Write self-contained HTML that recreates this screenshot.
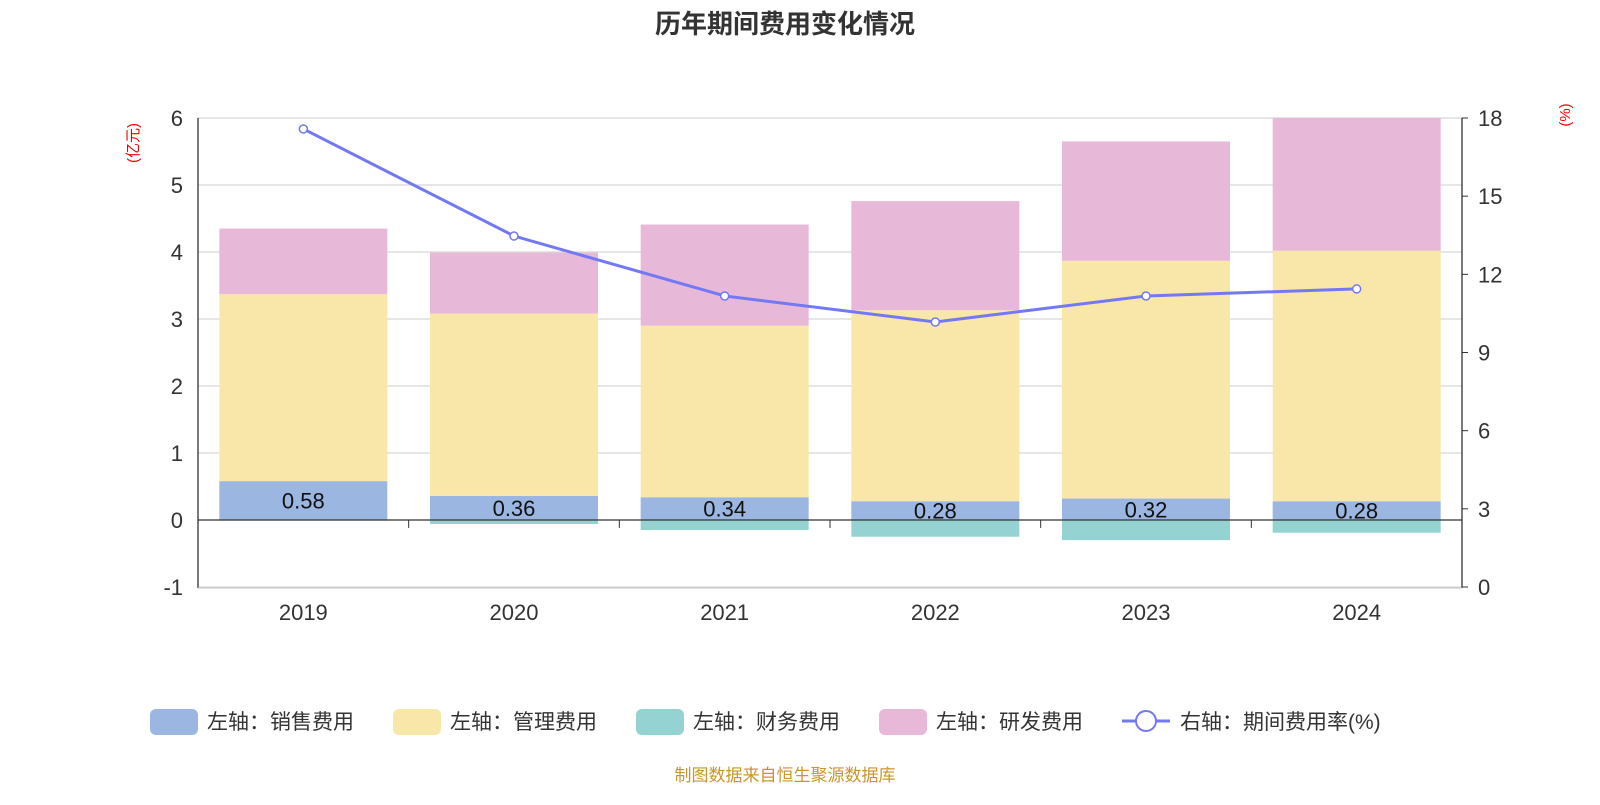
<!DOCTYPE html>
<html><head><meta charset="utf-8"><style>
body{margin:0;background:#fff;font-family:"Liberation Sans","Noto Sans CJK SC",sans-serif;}
</style></head><body>
<svg id="c" width="1600" height="800" xmlns="http://www.w3.org/2000/svg" style="font-family:'Liberation Sans','Noto Sans CJK SC',sans-serif">
<text x="785" y="33" text-anchor="middle" font-size="26" font-weight="bold" fill="#333">历年期间费用变化情况</text>
<text transform="translate(138,143) rotate(-90)" text-anchor="middle" font-size="15" fill="#e00">(亿元)</text>
<text transform="translate(1570,115) rotate(-90)" text-anchor="middle" font-size="15" fill="#e00">(%)</text>
<g id="grid"></g><g id="bars"></g><g id="axes"></g><g id="line"></g>
<g id="legend" font-size="21" fill="#333">
<rect x="150" y="709" width="48" height="26" rx="6" fill="#9bb6e0"/><text x="207" y="729">左轴：销售费用</text>
<rect x="393" y="709" width="48" height="26" rx="6" fill="#f8e7a8"/><text x="450" y="729">左轴：管理费用</text>
<rect x="636" y="709" width="48" height="26" rx="6" fill="#95d3d3"/><text x="693" y="729">左轴：财务费用</text>
<rect x="879" y="709" width="48" height="26" rx="6" fill="#e7b8d8"/><text x="936" y="729">左轴：研发费用</text>
<line x1="1122" y1="721" x2="1170" y2="721" stroke="#7378f5" stroke-width="3"/><circle cx="1146" cy="721" r="10" fill="#fff" stroke="#7378f5" stroke-width="2"/><text x="1180" y="729">右轴：期间费用率(%)</text>
</g>
<text x="785" y="781" text-anchor="middle" font-size="17" fill="#c8962a">制图数据来自恒生聚源数据库</text>
</svg>
<script>
const categories=["2019","2020","2021","2022","2023","2024"];
const sales=[0.58,0.36,0.34,0.28,0.32,0.28];
const admin=[2.79,2.72,2.56,2.85,3.55,3.74];
const finance=[-0.01,-0.06,-0.15,-0.25,-0.30,-0.19];
const rd=[0.98,0.91,1.51,1.63,1.78,1.98];
const rate=[17.58,13.47,11.17,10.17,11.17,11.44];
const leftTicks=[-1,0,1,2,3,4,5,6];
const rightTicks=[0,3,6,9,12,15,18];
const NS="http://www.w3.org/2000/svg";
const X0=198,X1=1462,band=(X1-X0)/categories.length,bw=168;
const yL=v=>520-v*67;
const yR=v=>587-v*(469/18);
const xc=i=>X0+band*(i+0.5);
function mk(p,t,a){const e=document.createElementNS(NS,t);for(const k in a)e.setAttribute(k,a[k]);document.getElementById(p).appendChild(e);return e;}
leftTicks.forEach(t=>{
 if(t!==0){const g=mk('grid','line',{x1:X0,x2:X1,y1:yL(t),y2:yL(t),stroke:'#ccc','stroke-width':1});
 
 }
 const l=mk('axes','text',{x:183,y:yL(t)+8,'text-anchor':'end','font-size':22,fill:'#333'});l.textContent=t;
 
 
});
rightTicks.forEach(t=>{
 const l=mk('axes','text',{x:1478,y:yR(t)+8,'font-size':22,fill:'#333'});l.textContent=t;
 
 
 const k=mk('axes','line',{x1:X1,x2:X1+6,y1:yR(t),y2:yR(t),stroke:'#333'});
 
 
});
categories.forEach((c,i)=>{
 const x=xc(i)-bw/2;
 const segs=[[0,sales[i],'#9bb6e0','bar-sales'],[sales[i],sales[i]+admin[i],'#f8e7a8','bar-admin'],[sales[i]+admin[i],sales[i]+admin[i]+rd[i],'#e7b8d8','bar-rd'],[finance[i],0,'#95d3d3','bar-finance']];
 segs.forEach(s=>{const top=Math.min(s[1],6);const r=mk('bars','rect',{x:x,width:bw,y:yL(top),height:Math.max(0,yL(s[0])-yL(top)),fill:s[2]});
  
  });
 const t=mk('bars','text',{x:xc(i),y:yL(sales[i]/2)+8,'text-anchor':'middle','font-size':22,fill:'#111'});t.textContent=sales[i].toFixed(2);
 
 
 const cl=mk('axes','text',{x:xc(i),y:620,'text-anchor':'middle','font-size':22,fill:'#333'});cl.textContent=c;
 
 
});
for(let i=1;i<categories.length;i++){const k=mk('axes','line',{x1:X0+band*i,x2:X0+band*i,y1:520,y2:528,stroke:'#333'});
 
 }
[[X0,yL(6),X0,588,'#333','left-axis-line'],[X1,yR(18),X1,588,'#333','right-axis-line'],[X0,520,X1,520,'#333','x-zero-axis'],[X0,588,X1,588,'#ccc','bottom-line']].forEach(a=>{
 const l=mk('axes','line',{x1:a[0],y1:a[1],x2:a[2],y2:a[3],stroke:a[4],'stroke-width':1.3});
 
 
});
const pl=mk('line','polyline',{points:rate.map((v,i)=>xc(i)+','+yR(v)).join(' '),fill:'none',stroke:'#7378f5','stroke-width':3});


rate.forEach((v,i)=>{const c=mk('line','circle',{cx:xc(i),cy:yR(v),r:4,fill:'#fff',stroke:'#7378f5','stroke-width':1.5});
 
 });
</script>
</body></html>
